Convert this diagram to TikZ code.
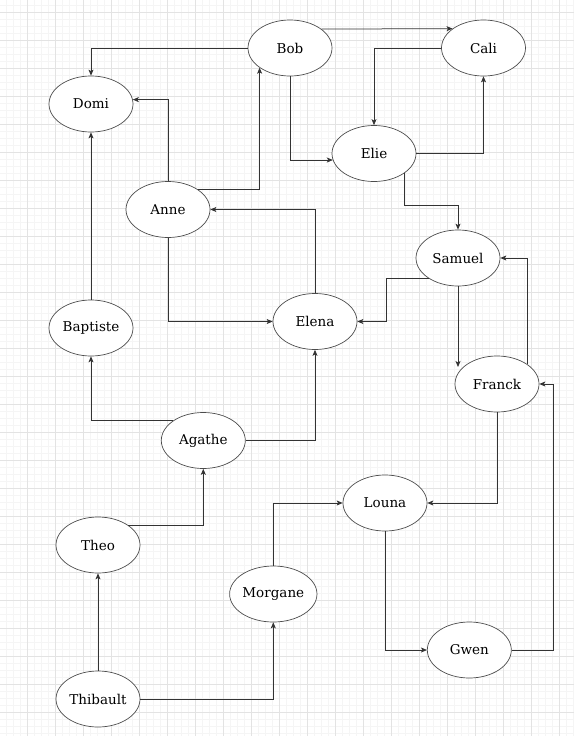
\documentclass[tikz,border=0pt]{standalone}
\usepackage{fontspec}
\setmainfont{DejaVu Serif}
\usetikzlibrary{shapes.geometric,arrows.meta}
\begin{document}
\begin{tikzpicture}[x=1pt,y=-1pt,
  person/.style={ellipse,draw=black!70,line width=0.7pt,fill=white,minimum width=84pt,minimum height=56pt,inner sep=0pt,font=\fontsize{13.5}{16}\selectfont},
  link/.style={draw=black!80,line width=0.75pt,-{Stealth[length=6pt,width=5pt,inset=1.5pt]}},
  minorgrid/.style={draw=black!4,line width=0.5pt},
  majorgrid/.style={draw=black!11,line width=0.6pt}]
\useasboundingbox (0,0) rectangle (574,736);
\fill[white] (0,0) rectangle (574,736);
% grid
\foreach \i in {0,...,82} {\draw[minorgrid] (6.3+7*\i,0) -- (6.3+7*\i,736);}
\foreach \i in {0,...,105} {\draw[minorgrid] (0,5.3+7*\i) -- (574,5.3+7*\i);}
\foreach \i in {-1,...,20} {\draw[majorgrid] (27.3+28*\i,0) -- (27.3+28*\i,736);}
\foreach \i in {0,...,26} {\draw[majorgrid] (0,12.3+28*\i) -- (574,12.3+28*\i);}
% nodes
\node[person] (Bob) at (290,48) {Bob};
\node[person] (Cali) at (483.5,48) {Cali};
\node[person] (Domi) at (91,104) {Domi};
\node[person] (Elie) at (374,153.5) {Elie};
\node[person] (Anne) at (168,209.5) {Anne};
\node[person] (Samuel) at (458,258) {Samuel};
\node[person] (Elena) at (315,321.5) {Elena};
\node[person] (Baptiste) at (91,328) {Baptiste};
\node[person] (Franck) at (497,384) {Franck};
\node[person] (Agathe) at (203.3,440.5) {Agathe};
\node[person] (Louna) at (385,503) {Louna};
\node[person] (Theo) at (98,545) {Theo};
\node[person] (Morgane) at (273.3,594) {Morgane};
\node[person] (Gwen) at (469.3,650) {Gwen};
\node[person] (Thibault) at (98,699) {Thibault};
\coordinate (franckin) at (458,367);
% edges
\draw[link] (Bob.west) -| (Domi.north);
\draw[link] (Bob.31.7) -- (Cali.148.3);
\draw[link] (Bob.south) |- (Elie.189.5);
\draw[link] (Cali.west) -| (Elie.north);
\draw[link] (Elie.east) -| (Cali.south);
\draw[link] (Elie.-33.7) -- ++(0,32.4) -| (Samuel.north);
\draw[link] (Anne.north) |- (Domi.6.5);
\draw[link] (Anne.34.8) -| (Bob.213.7);
\draw[link] (Elena.north) |- (Anne.east);
\draw[link] (Anne.south) |- (Elena.west);
\draw[link] (Baptiste.north) -- (Domi.south);
\draw[link] (Agathe.146.3) -| (Baptiste.south);
\draw[link] (Agathe.east) -| (Elena.south);
\draw[link] (Samuel.215.1) -- ++(-42.4,0) |- (Elena.east);
\draw[link] (Samuel.south) -- (franckin);
\draw[link] (Franck.33.7) |- (Samuel.east);
\draw[link] (Franck.south) |- (Louna.east);
\draw[link] (Gwen.east) -- ++(42,0) |- (Franck.east);
\draw[link] (Louna.south) |- (Gwen.west);
\draw[link] (Morgane.north) |- (Louna.west);
\draw[link] (Theo.34.2) -| (Agathe.south);
\draw[link] (Thibault.north) -- (Theo.south);
\draw[link] (Thibault.east) -| (Morgane.south);
\end{tikzpicture}
\end{document}
